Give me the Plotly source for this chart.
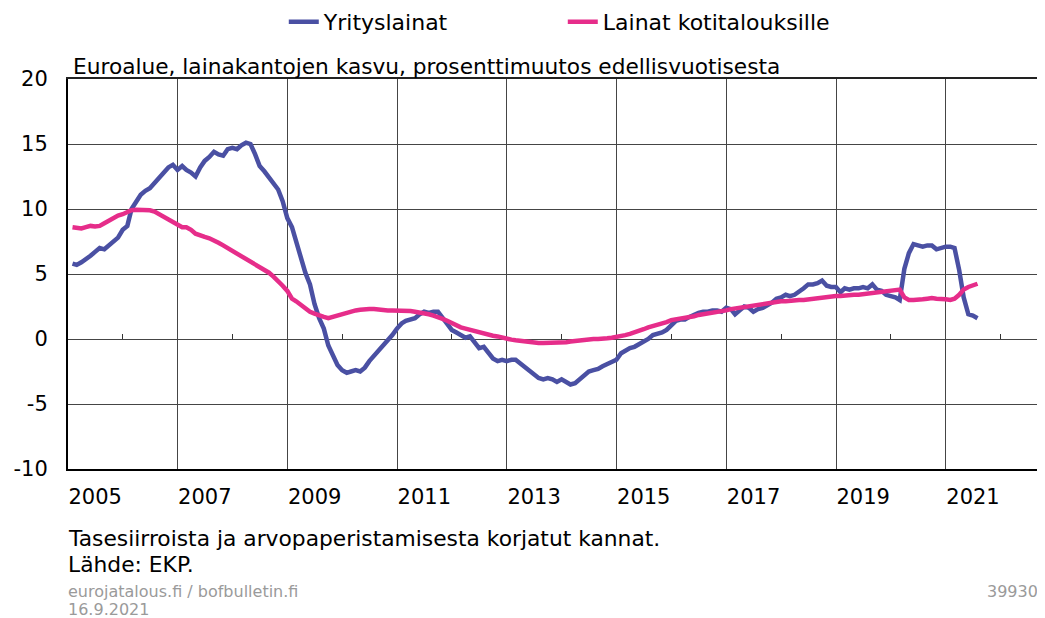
import pandas as pd
import plotly.graph_objects as go

# Monthly observations, Jan 2005 - Jul 2021 (year-on-year % change)
months = pd.date_range("2005-01-31", "2021-07-31", freq="ME")

yrityslainat = [
    5.8, 5.7, 5.9, 6.1, 6.4, 6.7, 7.0, 6.9, 7.2, 7.5, 7.8, 8.4,        # 2005
    8.7, 10.0, 10.6, 11.1, 11.4, 11.6, 12.0, 12.4, 12.9, 13.2, 13.4, 13.0,  # 2006
    13.3, 13.0, 12.8, 12.5, 13.2, 13.7, 14.0, 14.4, 14.2, 14.1, 14.6, 14.7,  # 2007
    14.6, 14.9, 15.1, 15.0, 14.2, 13.3, 12.9, 12.4, 12.0, 11.5, 10.6, 9.3,  # 2008
    8.6, 7.5, 6.2, 5.1, 4.2, 2.7, 1.6, 0.8, -0.5, -1.3, -2.0, -2.4,      # 2009
    -2.6, -2.5, -2.4, -2.5, -2.2, -1.7, -1.3, -1.0, -0.6, -0.2, 0.3, 0.8,  # 2010
    1.2, 1.4, 1.5, 1.6, 1.9, 2.1, 2.0, 2.1, 2.1, 1.6, 1.2, 0.7,          # 2011
    0.5, 0.3, 0.1, 0.2, -0.3, -0.7, -0.6, -1.0, -1.5, -1.7, -1.6, -1.7,  # 2012
    -1.6, -1.6, -1.9, -2.2, -2.5, -2.8, -3.0, -3.1, -3.0, -3.1, -3.3, -3.1,  # 2013
    -3.3, -3.5, -3.4, -3.1, -2.8, -2.5, -2.4, -2.3, -2.1, -1.9, -1.8, -1.6,  # 2014
    -1.1, -0.9, -0.7, -0.6, -0.4, -0.2, 0.0, 0.3, 0.4, 0.5, 0.7, 1.0,    # 2015
    1.4, 1.5, 1.5, 1.7, 1.9, 2.0, 2.1, 2.1, 2.2, 2.2, 2.1, 2.4,          # 2016
    2.3, 1.9, 2.2, 2.5, 2.4, 2.1, 2.3, 2.4, 2.6, 2.8, 3.1, 3.2,          # 2017
    3.4, 3.3, 3.4, 3.6, 3.9, 4.2, 4.2, 4.3, 4.5, 4.1, 4.0, 4.0,          # 2018
    3.6, 3.9, 3.8, 3.9, 3.9, 4.0, 3.9, 4.2, 3.8, 3.7, 3.4, 3.3,          # 2019
    3.2, 3.0, 5.4, 6.6, 7.3, 7.2, 7.1, 7.2, 7.2, 6.9, 7.0, 7.1,          # 2020
    7.1, 7.0, 5.3, 3.2, 1.9, 1.8, 1.6,                                    # 2021
]

kotitaloudet = [
    8.6, 8.55, 8.5, 8.6, 8.7, 8.65, 8.7, 8.9, 9.1, 9.3, 9.5, 9.6,       # 2005
    9.75, 9.9, 9.95, 9.95, 9.95, 9.9, 9.8, 9.6, 9.4, 9.15, 8.95, 8.75,  # 2006
    8.6, 8.6, 8.4, 8.1, 7.95, 7.85, 7.75, 7.6, 7.4, 7.2, 7.0, 6.8,      # 2007
    6.6, 6.4, 6.2, 6.0, 5.8, 5.55, 5.3, 5.1, 4.8, 4.5, 4.1, 3.7,        # 2008
    3.1, 2.9, 2.6, 2.3, 2.1, 1.95, 1.8, 1.7, 1.6, 1.7, 1.8, 1.95,       # 2009
    2.05, 2.15, 2.2, 2.25, 2.3, 2.3, 2.3, 2.25, 2.25, 2.2, 2.2, 2.2,    # 2010
    2.2, 2.2, 2.15, 2.1, 2.05, 2.0, 1.9, 1.8, 1.7, 1.55, 1.4, 1.2,      # 2011
    1.05, 0.9, 0.8, 0.7, 0.6, 0.5, 0.4, 0.3, 0.25, 0.2, 0.1, 0.05,      # 2012
    -0.05, -0.1, -0.15, -0.15, -0.2, -0.25, -0.3, -0.3, -0.3, -0.3, -0.3, -0.3,  # 2013
    -0.25, -0.2, -0.15, -0.1, -0.1, -0.05, 0.0, 0.0, 0.0, 0.05, 0.1, 0.15,  # 2014
    0.25, 0.3, 0.4, 0.5, 0.6, 0.75, 0.9, 1.0, 1.05, 1.2, 1.3, 1.45,     # 2015
    1.5, 1.6, 1.65, 1.7, 1.75, 1.85, 1.9, 1.95, 2.0, 2.05, 2.15, 2.2,   # 2016
    2.3, 2.35, 2.45, 2.5, 2.55, 2.6, 2.65, 2.7, 2.75, 2.8, 2.85, 2.9,   # 2017
    2.9, 2.95, 2.95, 3.0, 3.0, 3.05, 3.1, 3.15, 3.2, 3.25, 3.3, 3.3,    # 2018
    3.3, 3.35, 3.35, 3.4, 3.4, 3.45, 3.5, 3.55, 3.6, 3.6, 3.65, 3.75,   # 2019
    3.75, 3.8, 3.2, 3.0, 3.0, 3.0, 3.05, 3.1, 3.15, 3.1, 3.1, 3.05,     # 2020
    3.0, 3.1, 3.4, 3.8, 4.0, 4.1, 4.25,                                 # 2021
]

label_years = [2005, 2007, 2009, 2011, 2013, 2015, 2017, 2019, 2021]
grid_years = [2007, 2009, 2011, 2013, 2015, 2017, 2019, 2021]
minor_years = [2006, 2008, 2010, 2012, 2014, 2016, 2018, 2020, 2022]
y_ticks = [-10, -5, 0, 5, 10, 15, 20]
y_labels = ["-10", "-5", "0", "5", "10", "15", "20"]

BLUE = "#4a50a3"
PINK = "#e62d8a"
FONT = "DejaVu Sans, Verdana, sans-serif"
x_range = ["2005-01-01", "2022-09-20"]

fig = go.Figure()
fig.add_trace(go.Scatter(x=months, y=yrityslainat, name="Yrityslainat", mode="lines",
                         line=dict(color=BLUE, width=4.5)))
fig.add_trace(go.Scatter(x=months, y=kotitaloudet, name="Lainat kotitalouksille", mode="lines",
                         line=dict(color=PINK, width=4.5)))
# empty helper traces so the gridline / minor tick axes are rendered
fig.add_trace(go.Scatter(x=[], y=[], xaxis="x2", showlegend=False, hoverinfo="skip"))
fig.add_trace(go.Scatter(x=[], y=[], xaxis="x3", showlegend=False, hoverinfo="skip"))

# the page body has an 8px margin, so the figure is 8px smaller on each side
fig.update_layout(
    width=1037, height=610,
    margin=dict(l=60, r=5, t=71, b=149, autoexpand=False),
    paper_bgcolor="white", plot_bgcolor="white",
    font=dict(family=FONT, size=21, color="black"),
    showlegend=True,
    legend=dict(orientation="h", x=0.222, xanchor="left", y=1.146, yanchor="middle",
                font=dict(size=22), entrywidth=234, itemwidth=30,
                bgcolor="rgba(0,0,0,0)"),
    xaxis=dict(type="date", range=x_range,
               tickvals=[f"{y}-07-01" for y in label_years], ticktext=[str(y) for y in label_years],
               showgrid=False, zeroline=False, showline=True, linecolor="black", linewidth=2,
               ticks="", ticklabelstandoff=8, tickfont=dict(size=21)),
    xaxis2=dict(type="date", matches="x", overlaying="x", anchor="y", side="top",
                tickvals=[f"{y}-01-01" for y in grid_years],
                showgrid=True, gridcolor="#454545", gridwidth=1,
                showticklabels=False, ticks="", zeroline=False,
                showline=True, linecolor="#222", linewidth=2),
    xaxis3=dict(type="date", matches="x", overlaying="x", anchor="free", position=1/3,
                side="bottom", tickvals=[f"{y}-01-01" for y in minor_years],
                ticks="inside", ticklen=5, tickwidth=1, tickcolor="#333",
                showticklabels=False, showgrid=False, showline=False, zeroline=False),
    yaxis=dict(range=[-10, 20], tickvals=y_ticks, ticktext=y_labels,
               showgrid=True, gridcolor="#454545", gridwidth=1,
               zeroline=False, showline=True, linecolor="black", linewidth=2,
               ticks="", ticklabelstandoff=14, tickfont=dict(size=21)),
)

ann = [
    dict(text="Euroalue, lainakantojen kasvu, prosenttimuutos edellisvuotisesta",
         x=0.003, y=1.033, xanchor="left", yanchor="middle", font=dict(size=21.7)),
    dict(text="Tasesiirroista ja arvopaperistamisesta korjatut kannat.",
         x=-0.002, y=-0.177, xanchor="left", yanchor="middle", font=dict(size=21.8)),
    dict(text="Lähde: EKP.",
         x=-0.002, y=-0.246, xanchor="left", yanchor="middle", font=dict(size=21.8)),
    dict(text="eurojatalous.fi / bofbulletin.fi",
         x=-0.002, y=-0.313, xanchor="left", yanchor="middle", font=dict(size=16, color="#9a9a9a")),
    dict(text="16.9.2021",
         x=-0.002, y=-0.359, xanchor="left", yanchor="middle", font=dict(size=16, color="#9a9a9a")),
    dict(text="39930",
         x=1.0, y=-0.313, xanchor="right", yanchor="middle", font=dict(size=16, color="#9a9a9a")),
]
for a in ann:
    fig.add_annotation(xref="paper", yref="paper", showarrow=False, **a)

fig.write_html("out.html")
